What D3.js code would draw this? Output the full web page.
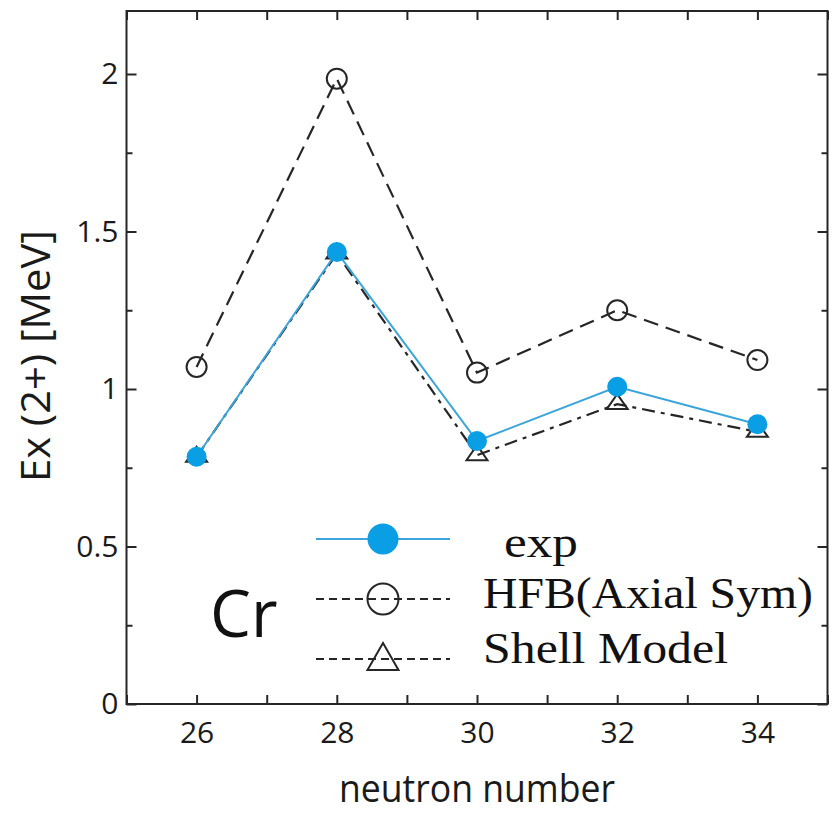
<!DOCTYPE html>
<html>
<head>
<meta charset="utf-8">
<script src="https://cdn.jsdelivr.net/npm/d3@7"></script>
<style>
  body { margin: 0; background: #fff; }
  svg { display: block; }
</style>
</head>
<body>
<div id="chart"></div>
<script>
// data
const neutrons = [26, 28, 30, 32, 34];
const expE   = [0.785, 1.435, 0.835, 1.007, 0.888];
const hfbE   = [1.07, 1.985, 1.052, 1.25, 1.092];
const shellE = [0.785, 1.43, 0.79, 0.952, 0.864];

const xTicks = [25, 26, 27, 28, 29, 30, 31, 32, 33, 34, 35];
const xLabels = [26, 28, 30, 32, 34];
const yMajor = [0, 0.5, 1, 1.5, 2];
const yMinor = [0.25, 0.75, 1.25, 1.75];

const legendNames = ["exp", "HFB(Axial Sym)", "Shell Model"];

const W = 836, H = 813;
const plot = {left: 126.5, right: 827.5, top: 11, bottom: 704};

const svg = d3.select("#chart")
  .append("svg")
    .attr("width", W)
    .attr("height", H);

const x = d3.scaleLinear().domain([25, 35]).range([plot.left, plot.right]);
const y = d3.scaleLinear().domain([0, 2.2]).range([plot.bottom, plot.top]);

const ink = "#262626";
const blueFill = "#0a9fe4";
const blueLine = "#3aa4db";

// ticks (inward) on all four sides
svg.append("g")
  .attr("transform", `translate(0,${plot.bottom})`)
  .call(d3.axisBottom(x).tickValues(xTicks).tickSize(-9).tickPadding(18)
    .tickFormat(d => xLabels.includes(d) ? d : ""))
  .call(g => g.select(".domain").remove());

svg.append("g")
  .attr("transform", `translate(0,${plot.top})`)
  .call(d3.axisTop(x).tickValues(xTicks).tickSize(-9).tickFormat(""))
  .call(g => g.select(".domain").remove());

svg.append("g")
  .attr("transform", `translate(${plot.left},0)`)
  .call(d3.axisLeft(y).tickValues(yMajor).tickSize(-10).tickPadding(8).tickFormat(d => d))
  .call(g => g.select(".domain").remove());
svg.append("g")
  .attr("transform", `translate(${plot.left},0)`)
  .call(d3.axisLeft(y).tickValues(yMinor).tickSize(-6).tickFormat(""))
  .call(g => g.select(".domain").remove());

svg.append("g")
  .attr("transform", `translate(${plot.right},0)`)
  .call(d3.axisRight(y).tickValues(yMajor).tickSize(-10).tickFormat(""))
  .call(g => g.select(".domain").remove());
svg.append("g")
  .attr("transform", `translate(${plot.right},0)`)
  .call(d3.axisRight(y).tickValues(yMinor).tickSize(-6).tickFormat(""))
  .call(g => g.select(".domain").remove());

svg.selectAll(".tick line")
  .attr("stroke", ink)
  .attr("stroke-width", 2);
svg.selectAll(".tick text")
  .attr("fill", "#1a1a1a")
  .style("font-family", "'Open Sans', sans-serif")
  .style("font-size", "30px");

// frame
svg.append("rect")
  .attr("x", plot.left).attr("y", plot.top)
  .attr("width", plot.right - plot.left).attr("height", plot.bottom - plot.top)
  .attr("fill", "none")
  .attr("stroke", ink)
  .attr("stroke-width", 2);

// axis titles
svg.append("text")
  .attr("x", (plot.left + plot.right) / 2)
  .attr("y", 802)
  .attr("text-anchor", "middle")
  .attr("textLength", 276)
  .attr("lengthAdjust", "spacingAndGlyphs")
  .style("font-family", "'Open Sans', sans-serif")
  .style("font-size", "38px")
  .attr("fill", "#1a1a1a")
  .text("neutron number");

svg.append("text")
  .attr("transform", "translate(50,356) rotate(-90)")
  .attr("text-anchor", "middle")
  .attr("textLength", 252)
  .attr("lengthAdjust", "spacingAndGlyphs")
  .style("font-family", "'Open Sans', sans-serif")
  .style("font-size", "41px")
  .attr("fill", "#1a1a1a")
  .text("Ex (2+) [MeV]");

// triangle marker: centred on its centroid
function tri(w, h) {
  return {
    draw(ctx) {
      ctx.moveTo(0, -h * 2 / 3);
      ctx.lineTo(w / 2, h / 3);
      ctx.lineTo(-w / 2, h / 3);
      ctx.closePath();
    }
  };
}

const line = d3.line()
  .x(d => x(d[0]))
  .y(d => y(d[1]));

const hfbPts = neutrons.map((n, i) => [n, hfbE[i]]);
const shellPts = neutrons.map((n, i) => [n, shellE[i]]);
const expPts = neutrons.map((n, i) => [n, expE[i]]);

// HFB
svg.append("path")
  .datum(hfbPts)
  .attr("d", line)
  .attr("fill", "none")
  .attr("stroke", ink)
  .attr("stroke-width", 2.2)
  .attr("stroke-dasharray", "15,8");
svg.append("g")
  .selectAll("circle")
  .data(hfbPts)
  .join("circle")
    .attr("cx", d => x(d[0]))
    .attr("cy", d => y(d[1]))
    .attr("r", 10)
    .attr("fill", "none")
    .attr("stroke", ink)
    .attr("stroke-width", 2);

// Shell model
svg.append("path")
  .datum(shellPts)
  .attr("d", line)
  .attr("fill", "none")
  .attr("stroke", ink)
  .attr("stroke-width", 2.2)
  .attr("stroke-dasharray", "13,6,4,6");
svg.append("g")
  .selectAll("path")
  .data(shellPts)
  .join("path")
    .attr("transform", d => `translate(${x(d[0])},${y(d[1])})`)
    .attr("d", d3.symbol().type(tri(21, 15)))
    .attr("fill", "none")
    .attr("stroke", ink)
    .attr("stroke-width", 2);

// exp
svg.append("path")
  .datum(expPts)
  .attr("d", line)
  .attr("fill", "none")
  .attr("stroke", blueLine)
  .attr("stroke-width", 2);
svg.append("g")
  .selectAll("circle")
  .data(expPts)
  .join("circle")
    .attr("cx", d => x(d[0]))
    .attr("cy", d => y(d[1]))
    .attr("r", 10)
    .attr("fill", blueFill);

// legend
const lg = svg.append("g");
const lx1 = 316, lx2 = 450, lmx = 383;
const rowY = [539, 599, 659];
const textX = [504, 483, 483];
const textY = [557, 608, 663];
const textLen = [74, 330, 245];

lg.append("line")
  .attr("x1", lx1).attr("x2", lx2)
  .attr("y1", rowY[0]).attr("y2", rowY[0])
  .attr("stroke", blueLine).attr("stroke-width", 2);
lg.append("circle")
  .attr("cx", lmx).attr("cy", rowY[0]).attr("r", 15.5)
  .attr("fill", blueFill);

lg.append("line")
  .attr("x1", lx1).attr("x2", lx2)
  .attr("y1", rowY[1]).attr("y2", rowY[1])
  .attr("stroke", ink).attr("stroke-width", 1.8)
  .attr("stroke-dasharray", "8,5");
lg.append("circle")
  .attr("cx", lmx).attr("cy", rowY[1]).attr("r", 15.5)
  .attr("fill", "none")
  .attr("stroke", ink).attr("stroke-width", 2);

lg.append("line")
  .attr("x1", lx1).attr("x2", lx2)
  .attr("y1", rowY[2]).attr("y2", rowY[2])
  .attr("stroke", ink).attr("stroke-width", 1.8)
  .attr("stroke-dasharray", "8,5");
lg.append("path")
  .attr("transform", `translate(${lmx},${rowY[2] + 2})`)
  .attr("d", d3.symbol().type(tri(31, 27)))
  .attr("fill", "none")
  .attr("stroke", ink).attr("stroke-width", 2);

lg.selectAll("text")
  .data(legendNames)
  .join("text")
    .attr("x", (d, i) => textX[i])
    .attr("y", (d, i) => textY[i])
    .attr("textLength", (d, i) => textLen[i])
    .attr("lengthAdjust", "spacingAndGlyphs")
    .style("font-family", "'Liberation Serif', serif")
    .style("font-size", "44px")
    .attr("fill", "#111")
    .text(d => d);

// element label
svg.append("text")
  .attr("x", 210)
  .attr("y", 637)
  .style("font-family", "'Open Sans', sans-serif")
  .style("font-size", "65px")
  .attr("fill", "#111")
  .text("Cr");
</script>
</body>
</html>
